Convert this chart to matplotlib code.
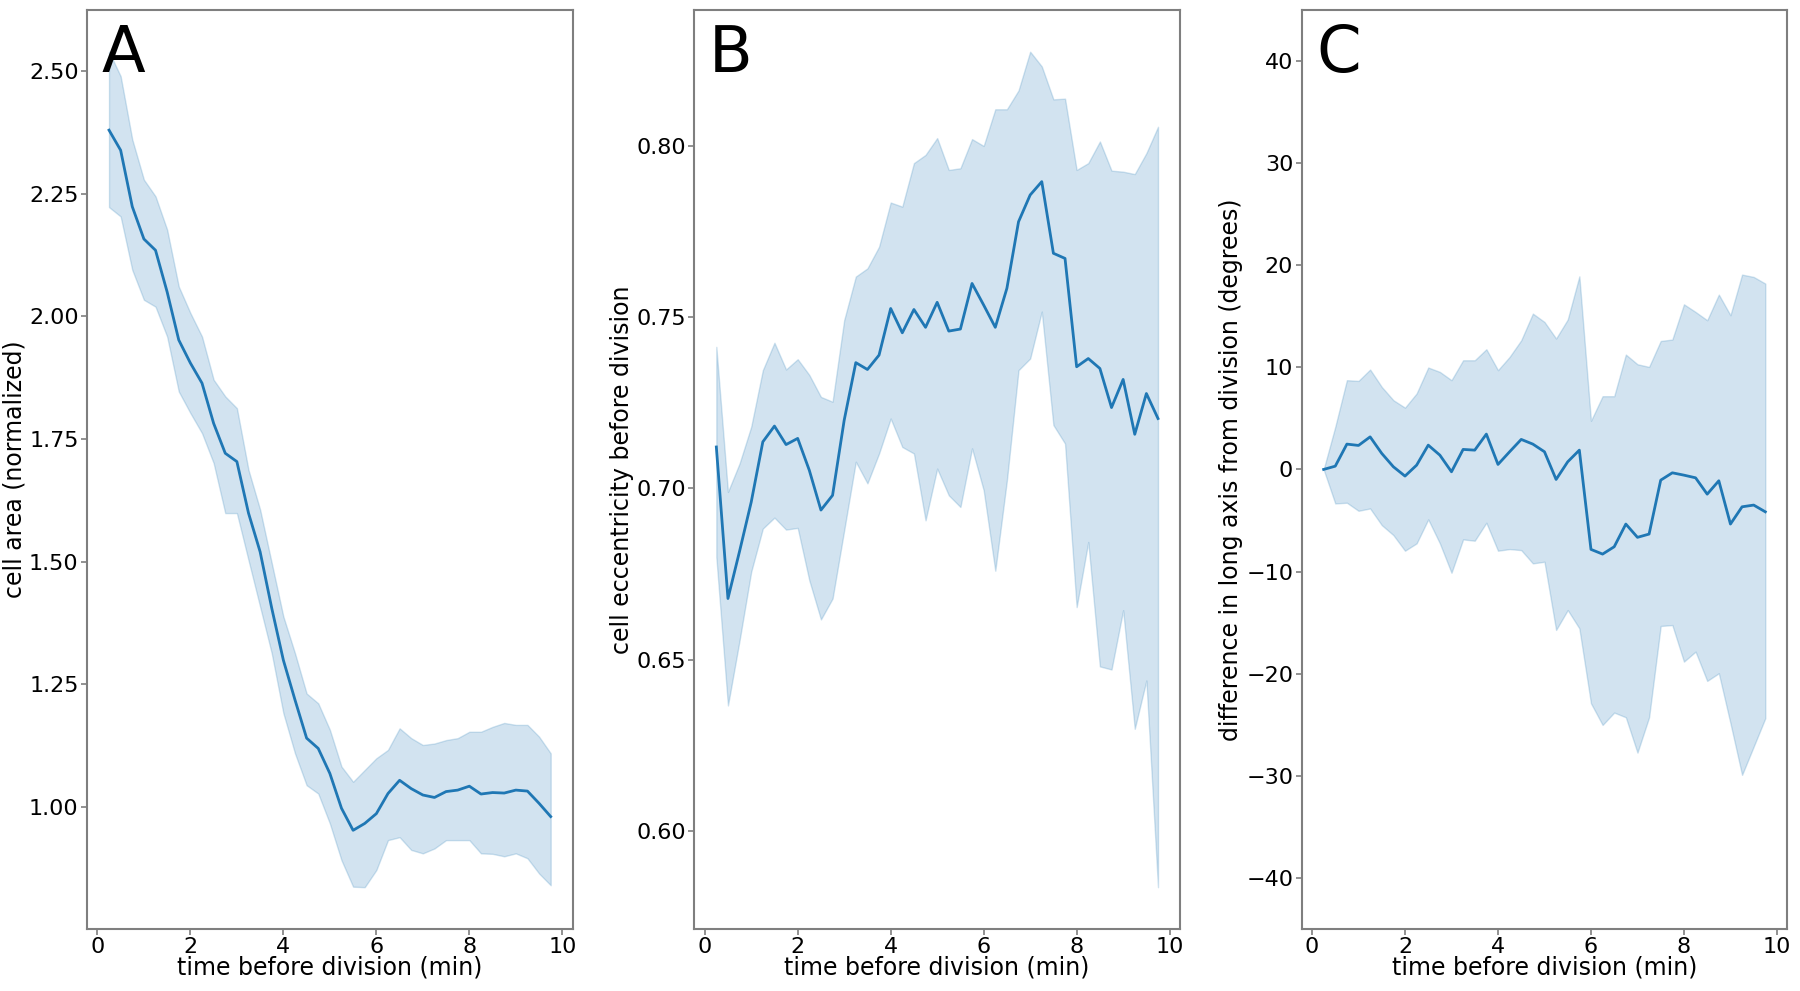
import matplotlib
matplotlib.use('Agg')
import matplotlib.pyplot as plt

# time before division (min), sampled every 15 s
time_min = [0.25, 0.5, 0.75, 1.0, 1.25, 1.5, 1.75, 2.0, 2.25, 2.5,
            2.75, 3.0, 3.25, 3.5, 3.75, 4.0, 4.25, 4.5, 4.75, 5.0,
            5.25, 5.5, 5.75, 6.0, 6.25, 6.5, 6.75, 7.0, 7.25, 7.5,
            7.75, 8.0, 8.25, 8.5, 8.75, 9.0, 9.25, 9.5, 9.75]

# A: cell area (normalized)
area_mean = [2.38, 2.339, 2.224, 2.158, 2.135, 2.05, 1.952, 1.905, 1.864, 1.782,
             1.721, 1.704, 1.599, 1.520, 1.405, 1.299, 1.218, 1.140, 1.119, 1.068,
             0.997, 0.952, 0.966, 0.986, 1.027, 1.054, 1.037, 1.024, 1.019, 1.031,
             1.034, 1.042, 1.026, 1.029, 1.028, 1.034, 1.032, 1.007, 0.980]
area_hi = [2.54, 2.49, 2.361, 2.279, 2.245, 2.177, 2.061, 2.007, 1.959, 1.871,
           1.837, 1.813, 1.687, 1.606, 1.497, 1.388, 1.313, 1.231, 1.211, 1.157,
           1.082, 1.051, 1.075, 1.099, 1.116, 1.160, 1.140, 1.126, 1.129, 1.136,
           1.140, 1.153, 1.153, 1.163, 1.171, 1.167, 1.167, 1.143, 1.109]
area_lo = [2.223, 2.204, 2.095, 2.034, 2.020, 1.959, 1.847, 1.803, 1.762, 1.701,
           1.599, 1.599, 1.503, 1.408, 1.313, 1.191, 1.109, 1.044, 1.027, 0.966,
           0.891, 0.837, 0.836, 0.871, 0.932, 0.938, 0.912, 0.905, 0.915, 0.932,
           0.932, 0.932, 0.905, 0.904, 0.899, 0.905, 0.895, 0.864, 0.840]

# B: cell eccentricity before division
ecc_mean = [0.7121, 0.6679, 0.6817, 0.696, 0.7136, 0.7182, 0.7128, 0.7146, 0.7053, 0.6937,
            0.6980, 0.7199, 0.7367, 0.7347, 0.7389, 0.7525, 0.7454, 0.7522, 0.7470, 0.7543,
            0.7459, 0.7465, 0.7598, 0.7535, 0.7470, 0.7584, 0.7778, 0.7856, 0.7895, 0.7686,
            0.7671, 0.7355, 0.7379, 0.7350, 0.7236, 0.7318, 0.7158, 0.7277, 0.7204]
ecc_hi = [0.7413, 0.699, 0.7073, 0.718, 0.7345, 0.7425, 0.7347, 0.7377, 0.7331, 0.7267,
          0.7253, 0.7491, 0.7618, 0.7642, 0.7705, 0.7834, 0.7822, 0.7949, 0.7973, 0.8022,
          0.7929, 0.7934, 0.8019, 0.7999, 0.8106, 0.8106, 0.8161, 0.8274, 0.8231, 0.8135,
          0.8137, 0.7929, 0.7949, 0.8012, 0.7927, 0.7924, 0.7917, 0.7978, 0.8055]
ecc_lo = [0.680, 0.6367, 0.6557, 0.6757, 0.6883, 0.6915, 0.6880, 0.6885, 0.6732, 0.6618,
          0.6679, 0.6878, 0.7078, 0.7015, 0.7102, 0.7204, 0.7121, 0.7102, 0.6907, 0.7058,
          0.6980, 0.6946, 0.7117, 0.6995, 0.6760, 0.7024, 0.7345, 0.7379, 0.7516, 0.7185,
          0.7131, 0.6654, 0.6844, 0.6481, 0.6472, 0.6645, 0.6299, 0.6440, 0.5837]

# C: difference in long axis from division (degrees)
angle_mean = [0.0, 0.32, 2.48, 2.35, 3.19, 1.57, 0.26, -0.65, 0.42, 2.38,
              1.40, -0.23, 1.96, 1.89, 3.46, 0.49, 1.73, 2.94, 2.48, 1.73,
              -0.98, 0.75, 1.89, -7.83, -8.29, -7.57, -5.35, -6.65, -6.33, -1.05,
              -0.33, -0.56, -0.82, -2.42, -1.11, -5.35, -3.66, -3.49, -4.15]
angle_hi = [0.0, 4.17, 8.74, 8.67, 9.78, 8.08, 6.78, 6.05, 7.44, 9.98,
            9.55, 8.74, 10.69, 10.69, 11.77, 9.72, 11.02, 12.65, 15.26, 14.44,
            12.82, 14.68, 18.91, 4.76, 7.17, 7.17, 11.25, 10.30, 10.04, 12.58,
            12.72, 16.17, 15.42, 14.61, 17.12, 15.10, 19.08, 18.85, 18.20]
angle_lo = [0.0, -3.33, -3.26, -4.05, -3.82, -5.45, -6.43, -7.96, -7.24, -4.89,
            -7.24, -10.12, -6.85, -6.98, -5.22, -7.96, -7.80, -7.90, -9.20, -9.04,
            -15.72, -13.77, -15.56, -22.90, -25.02, -23.81, -24.27, -27.73, -24.27, -15.33,
            -15.24, -18.82, -17.84, -20.71, -19.96, -24.85, -29.91, -27.14, -24.36]

panel_letters = ['A', 'B', 'C']
y_labels = ['cell area (normalized)',
            'cell eccentricity before division',
            'difference in long axis from division (degrees)']
x_label = 'time before division (min)'

line_color = '#1f77b4'
spine_color = '#7f7f7f'

fig, axes = plt.subplots(1, 3, figsize=(18, 9.91), dpi=100)
fig.subplots_adjust(left=0.0483, right=0.993, top=0.990, bottom=0.0626, wspace=0.25)

series = [(area_mean, area_lo, area_hi),
          (ecc_mean, ecc_lo, ecc_hi),
          (angle_mean, angle_lo, angle_hi)]

for ax, (mean, lo, hi), letter, ylab in zip(axes, series, panel_letters, y_labels):
    ax.fill_between(time_min, lo, hi, color=line_color, alpha=0.2)
    ax.plot(time_min, mean, color=line_color, lw=2)
    ax.set_xticks([0, 2, 4, 6, 8, 10])
    ax.set_xlabel(x_label, fontsize=17, labelpad=-1)
    ax.set_ylabel(ylab, fontsize=17, labelpad=2)
    ax.tick_params(labelsize=16, color=spine_color, length=4, width=1.2, pad=2)
    for s in ax.spines.values():
        s.set_color(spine_color)
        s.set_linewidth(1.5)
    ax.text(0.03, 0.932, letter, transform=ax.transAxes, fontsize=46,
            va='baseline', ha='left')

axes[2].set_ylim(-45, 45)
axes[2].set_yticks([-40, -30, -20, -10, 0, 10, 20, 30, 40])

fig.savefig('out.png', dpi=100)
